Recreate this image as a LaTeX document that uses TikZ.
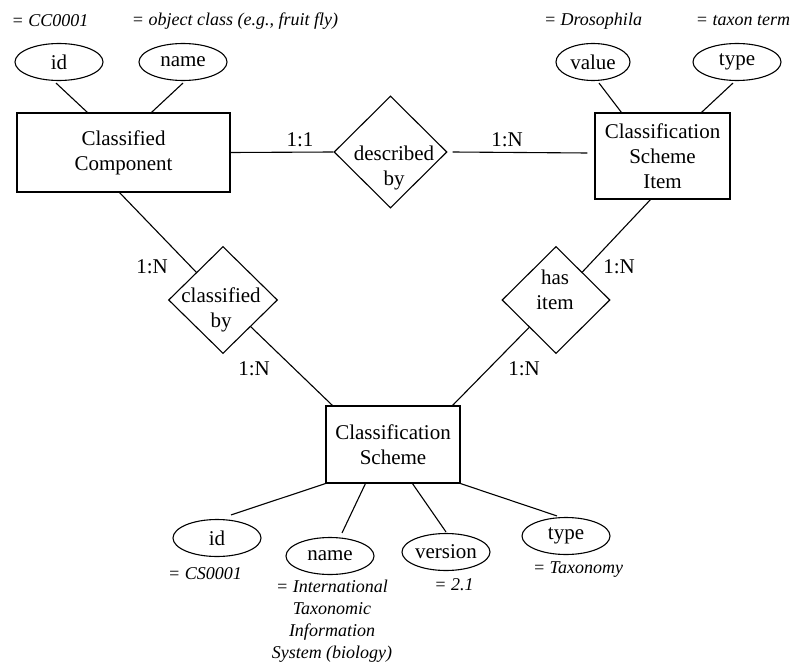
\documentclass[tikz,border=0pt]{standalone}
\usepackage{fontspec}
\setmainfont{Liberation Serif}
\usetikzlibrary{shapes.geometric}
\begin{document}
\begin{tikzpicture}[x=1pt,y=-1pt,
  every node/.style={font=\fontsize{21}{25}\selectfont},
  ent/.style={draw,line width=1.1pt,rectangle,align=center,inner sep=0pt},
  rel/.style={draw,line width=1.1pt,diamond,inner sep=0pt},
  attr/.style={draw,line width=1.1pt,ellipse,minimum width=88pt,minimum height=37pt,inner sep=0pt},
  valtxt/.style={font=\fontsize{18}{22}\selectfont\itshape,align=center,inner sep=0pt},
  lbl/.style={inner sep=0pt,align=center},
  conn/.style={line width=1.1pt}]
\useasboundingbox (0,0) rectangle (792,663);

% entities
\node[ent,minimum width=213pt,minimum height=79pt] (cc) at (123.5,152.5) {Classified\\Component};
\node[ent,minimum width=135pt,minimum height=86pt] (csi) at (662.5,156) {Classification\\Scheme\\Item};
\node[ent,minimum width=134pt,minimum height=77pt] (cs) at (393,444.5) {Classification\\Scheme};

% relationships
\node[rel,minimum width=113pt,minimum height=112pt] (desc) at (390.5,152) {};
\node[lbl] (desct) at (394,168) {described\\by};
\node[rel,minimum width=109pt,minimum height=107pt] (cb) at (223,300) {};
\node[lbl] (cbt) at (221,310) {classified\\by};
\node[rel,minimum width=108pt,minimum height=107pt] (hi) at (556,300) {};
\node[lbl] (hit) at (555,290) {has\\item};

% attributes top
\node[attr] (id1) at (59,62) {id};
\node[attr] (name1) at (183,62) {name};
\node[attr,minimum width=74pt] (val1) at (593,62) {value};
\node[attr] (type1) at (737,62) {type};

% attributes bottom
\node[attr] (id2) at (217,538) {id};
\node[attr] (name2) at (330,556) {name};
\node[attr] (ver2) at (446,552) {version};
\node[attr] (type2) at (566,536) {type};

% value texts
\node[valtxt] (v1) at (50,21) {= CC0001};
\node[valtxt] (v2) at (235,21) {= object class (e.g., fruit fly)};
\node[valtxt] (v3) at (593,21) {= Drosophila};
\node[valtxt] (v4) at (743,21) {= taxon term};
\node[valtxt] (v5) at (205,574) {= CS0001};
\node[valtxt] (v6) at (332,621) {= International\\Taxonomic\\Information\\System (biology)};
\node[valtxt] (v7) at (454,585) {= 2.1};
\node[valtxt] (v8) at (578,570) {= Taxonomy};

% cardinalities
\node[lbl] (c1) at (300,140) {1:1};
\node[lbl] (c2) at (507,140) {1:N};
\node[lbl] (c3) at (152,267) {1:N};
\node[lbl] (c4) at (254,369) {1:N};
\node[lbl] (c5) at (619,267) {1:N};
\node[lbl] (c6) at (524,369) {1:N};

% connectors: attributes top
\draw[conn] ([xshift=-3pt,yshift=-2pt]id1.south) -- ([xshift=71pt]cc.north west);
\draw[conn] ([yshift=-2pt]name1.south) -- ([xshift=135pt]cc.north west);
\draw[conn] ([xshift=6pt,yshift=-2pt]val1.south) -- ([xshift=27pt]csi.north west);
\draw[conn] ([xshift=-4pt,yshift=-2pt]type1.south) -- ([xshift=107pt]csi.north west);

% connectors: relationships
\draw[conn] (cc.east) -- (desc.west);
\draw[conn] ([xshift=5pt]desc.east) -- ([xshift=-7pt,yshift=3pt]csi.west);
\draw[conn] ([xshift=-4pt]cc.south) -- (cb);
\draw[conn] (cb) -- ([xshift=7pt]cs.north west);
\draw[conn] ([xshift=-12pt]csi.south) -- (hi);
\draw[conn] (hi) -- ([xshift=-8pt]cs.north east);

% connectors: attributes bottom
\draw[conn] (cs.south west) -- ([xshift=14pt,yshift=4pt]id2.north);
\draw[conn] ([xshift=40pt]cs.south west) -- ([xshift=12pt,yshift=4pt]name2.north);
\draw[conn] ([xshift=87pt]cs.south west) -- ([yshift=1pt]ver2.north);
\draw[conn] (cs.south east) -- ([xshift=-9pt,yshift=1pt]type2.north);
\end{tikzpicture}
\end{document}
